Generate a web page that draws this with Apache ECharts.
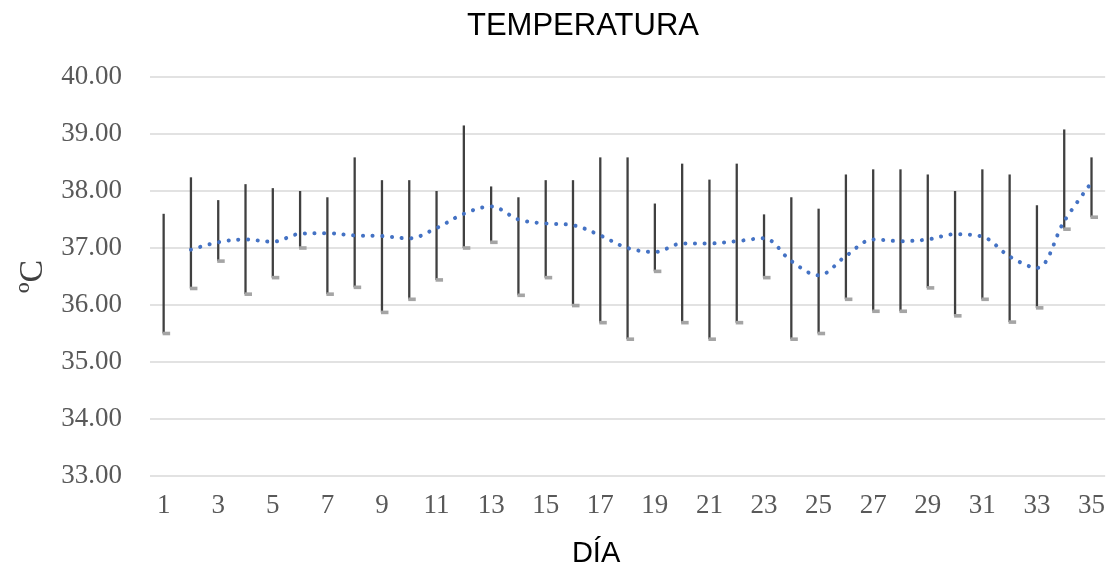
<!DOCTYPE html>
<html>
<head>
<meta charset="utf-8">
<script src="https://cdn.jsdelivr.net/npm/echarts@6/dist/echarts.min.js"></script>
<style>html,body{margin:0;padding:0;background:#fff;}#c{width:1108px;height:573px;}</style>
</head>
<body>
<div id="c"></div>
<script>
const days = ['1','2','3','4','5','6','7','8','9','10','11','12','13','14','15','16','17','18','19','20','21','22','23','24','25','26','27','28','29','30','31','32','33','34','35'];
const high = [37.60, 38.24, 37.84, 38.12, 38.05, 38.00, 37.89, 38.59, 38.19, 38.19, 38.00, 39.15, 38.08, 37.89, 38.19, 38.19, 38.59, 38.59, 37.78, 38.48, 38.20, 38.48, 37.59, 37.89, 37.69, 38.29, 38.38, 38.38, 38.29, 38.00, 38.38, 38.29, 37.75, 39.08, 38.59];
const low = [35.50, 36.29, 36.77, 36.19, 36.48, 37.00, 36.19, 36.31, 35.87, 36.10, 36.44, 37.00, 37.10, 36.17, 36.48, 35.99, 35.69, 35.40, 36.59, 35.69, 35.40, 35.69, 36.48, 35.40, 35.50, 36.10, 35.89, 35.89, 36.30, 35.81, 36.10, 35.70, 35.95, 37.33, 37.54];
const movingAvg = ['-', 36.97, 37.10, 37.15, 37.11, 37.25, 37.26, 37.22, 37.21, 37.17, 37.35, 37.60, 37.73, 37.50, 37.43, 37.40, 37.22, 37.00, 36.93, 37.08, 37.08, 37.12, 37.17, 36.77, 36.52, 36.86, 37.15, 37.12, 37.15, 37.24, 37.20, 36.85, 36.65, 37.47, 38.15];
const titleText = 'TEMPERATURA';
const xName = 'DÍA';
const yName = 'ºC';

const chart = echarts.init(document.getElementById('c'));
chart.setOption({
  animation: false,
  backgroundColor: '#ffffff',
  title: {
    text: titleText, left: 462, top: 6,
    textStyle: { fontFamily: 'Liberation Sans, Arial, sans-serif', fontSize: 31, fontWeight: 'normal', color: '#000000' }
  },
  grid: { left: 150, right: 2, top: 77, bottom: 96, containLabel: false },
  xAxis: {
    type: 'category', data: days, boundaryGap: true,
    name: xName, nameLocation: 'middle', nameGap: 63,
    nameTextStyle: { fontFamily: 'Liberation Sans, Arial, sans-serif', fontSize: 29, color: '#000000', padding: [0, 63, 0, 0] },
    axisLine: { show: false }, axisTick: { show: false },
    axisLabel: { interval: 1, margin: 16, fontFamily: 'Liberation Serif, Times New Roman, serif', fontSize: 27, color: '#595959' },
    splitLine: { show: false }
  },
  yAxis: {
    type: 'value', min: 33, max: 40, interval: 1,
    name: yName, nameLocation: 'middle', nameGap: 100, nameRotate: 90,
    nameTextStyle: { fontFamily: 'Liberation Serif, Times New Roman, serif', fontSize: 34, color: '#404040' },
    axisLine: { show: false }, axisTick: { show: false },
    axisLabel: { margin: 28, fontFamily: 'Liberation Serif, Times New Roman, serif', fontSize: 27, color: '#595959', formatter: v => v.toFixed(2) },
    splitLine: { show: true, lineStyle: { color: '#d9d9d9', width: 1.5 } }
  },
  series: [
    {
      type: 'custom',
      data: days.map((d, i) => [i, low[i], high[i]]),
      encode: { x: 0, y: [1, 2] },
      z: 2,
      renderItem: function (params, api) {
        const pLow = api.coord([api.value(0), api.value(1)]);
        const pHigh = api.coord([api.value(0), api.value(2)]);
        return {
          type: 'group',
          children: [
            { type: 'line', shape: { x1: pLow[0], y1: pHigh[1], x2: pLow[0], y2: pLow[1] }, style: { stroke: '#404040', lineWidth: 2.3 } },
            { type: 'rect', shape: { x: pLow[0] - 1, y: pLow[1] - 1.8, width: 7.5, height: 3.6 }, style: { fill: '#a5a5a5' } }
          ]
        };
      }
    },
    {
      type: 'line', data: movingAvg, smooth: 0.35, symbol: 'none', z: 3,
      lineStyle: { color: '#4472C4', width: 4, type: [0.1, 9.6], cap: 'round' }
    }
  ]
});
</script>
</body>
</html>
